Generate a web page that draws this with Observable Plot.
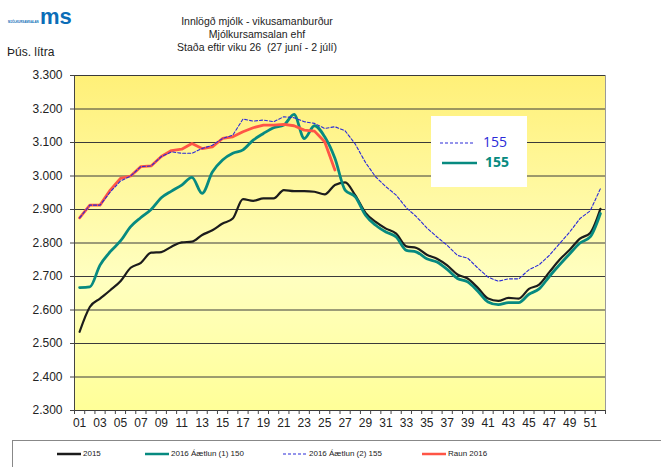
<!DOCTYPE html>
<html>
<head>
<meta charset="utf-8">
<script src="https://cdn.jsdelivr.net/npm/d3@7"></script>
<script src="https://cdn.jsdelivr.net/npm/@observablehq/plot@0.6"></script>
<style>
  html, body { margin: 0; padding: 0; background: #fff; }
  #chart { width: 661px; height: 467px; overflow: hidden; }
</style>
</head>
<body>
<div id="chart"></div>
<script>
// ---- data ----
const weeks = d3.range(1, 53);
const yTicks = [2300, 2400, 2500, 2600, 2700, 2800, 2900, 3000, 3100, 3200, 3300];
const weekLabels = d3.range(1, 53, 2);

const s2015 = [2535, 2609, 2634, 2659, 2686, 2726, 2741, 2771, 2773, 2789, 2802, 2804, 2824, 2838, 2858, 2873,
  2931, 2926, 2933, 2933, 2958, 2955, 2955, 2953, 2945, 2973, 2981, 2942, 2890, 2863, 2843, 2828, 2790, 2785,
  2765, 2753, 2733, 2706, 2694, 2666, 2634, 2627, 2636, 2634, 2663, 2676, 2713, 2750, 2780, 2813, 2830, 2902];
const plan1 = [2667, 2669, 2734, 2774, 2806, 2849, 2876, 2900, 2935, 2955, 2973, 2996, 2948, 3012, 3048, 3068,
  3078, 3107, 3127, 3144, 3152, 3184, 3112, 3150, 3117, 3053, 2958, 2938, 2883, 2853, 2833, 2818, 2778, 2773,
  2753, 2743, 2721, 2694, 2684, 2656, 2624, 2616, 2622, 2622, 2647, 2663, 2700, 2735, 2768, 2800, 2818, 2888];
const plan2 = [2875, 2913, 2913, 2952, 2985, 3000, 3028, 3030, 3058, 3072, 3068, 3068, 3082, 3092, 3112, 3122,
  3170, 3164, 3167, 3162, 3177, 3174, 3162, 3157, 3142, 3147, 3135, 3095, 3040, 2997, 2968, 2943, 2905, 2878,
  2845, 2818, 2793, 2763, 2755, 2725, 2698, 2686, 2693, 2693, 2720, 2735, 2763, 2798, 2833, 2873, 2896, 2962];
const raun2016 = [2875, 2913, 2913, 2958, 2993, 3000, 3028, 3030, 3058, 3076, 3080, 3097, 3082, 3087, 3112, 3117,
  3132, 3144, 3152, 3152, 3154, 3150, 3137, 3134, 3102, 3018];

const seriesNames = ["2015", "2016 Áætlun (1) 150", "2016 Áætlun (2) 155", "Raun 2016"];
const seriesColors = ["#1c1c1c", "#078a80", "#2a2ad8", "#ff5546"];
const titleLines = ["Innlögð mjólk - vikusamanburður", "Mjólkursamsalan ehf", "Staða eftir viku 26  (27 juní - 2 júlí)"];
const yLabel = "Þús. lítra";
const insetLabels = ["155", "155"];

const toRows = arr => arr.map((v, i) => ({week: weeks[i], value: v}));
const fmt = d => d3.format(",")(d).replace(",", ".");
const boundaries = d3.range(0.5, 53, 1);

const chart = Plot.plot({
  width: 661,
  height: 467,
  marginLeft: 74,
  marginRight: 56,
  marginTop: 75,
  marginBottom: 57,
  style: {fontFamily: "'Liberation Sans', Arial, sans-serif", fontSize: "12px", background: "white", color: "#222", overflow: "visible"},
  x: {type: "linear", domain: [0.5, 52.5]},
  y: {domain: [2300, 3300]},
  marks: [
    Plot.frame({fill: "url(#bgGrad)", stroke: null}),
    Plot.ruleY(yTicks, {stroke: "#3a3a3a", strokeWidth: 1}),
    Plot.ruleX([52.5], {stroke: "#9a9a9a", strokeWidth: 1}),
    Plot.axisY({ticks: yTicks, tickSize: 4, tickPadding: 8, tickFormat: fmt, label: null, fontSize: 12, stroke: "#444"}),
    Plot.ruleX([0.5], {stroke: "#444", strokeWidth: 1}),
    Plot.axisX({ticks: boundaries, tickSize: 4, tickFormat: () => "", label: null, stroke: "#444"}),
    Plot.axisX({ticks: weekLabels, tickSize: 0, tickPadding: 8, tickFormat: d => String(d).padStart(2, "0"), label: null, fontSize: 12}),
    Plot.lineY(toRows(s2015), {x: "week", y: "value", stroke: seriesColors[0], strokeWidth: 2.2, curve: "monotone-x"}),
    Plot.lineY(toRows(plan1), {x: "week", y: "value", stroke: seriesColors[1], strokeWidth: 2.8, curve: "monotone-x"}),
    Plot.lineY(toRows(raun2016), {x: "week", y: "value", stroke: seriesColors[3], strokeWidth: 2.8}),
    Plot.lineY(toRows(plan2), {x: "week", y: "value", stroke: seriesColors[2], strokeWidth: 1.1, strokeDasharray: "3,2"})
  ]
});

const svg = d3.select(chart);
const defs = svg.insert("defs", ":first-child");
const grad = defs.append("linearGradient").attr("id", "bgGrad").attr("x1", 0).attr("y1", 0).attr("x2", 0).attr("y2", 1);
grad.append("stop").attr("offset", "0%").attr("stop-color", "#fff078");
grad.append("stop").attr("offset", "60%").attr("stop-color", "#ffffc0");
grad.append("stop").attr("offset", "100%").attr("stop-color", "#ffff98");

const font = "'Liberation Sans', Arial, sans-serif";

// logo
const logo = svg.append("g").attr("text-anchor", "start");
logo.append("text").attr("x", 40).attr("y", 24).attr("text-anchor", "start")
  .attr("font-family", font).attr("font-weight", "bold").attr("font-size", 22).attr("fill", "#0b6db7").text("ms");
logo.append("text").attr("x", 8).attr("y", 23).attr("text-anchor", "start").attr("font-family", font).attr("font-weight", "bold")
  .attr("font-size", 2.9).attr("fill", "#0b6db7").text("MJÓLKURSAMSALAN");

// titles
titleLines.forEach((t, i) => {
  svg.append("text").attr("x", 257).attr("y", 22 + i * 13).attr("text-anchor", "middle").attr("dominant-baseline", "middle")
    .attr("font-family", font).attr("font-size", 10.5).attr("fill", "#222").text(t);
});
svg.append("text").attr("x", 7).attr("y", 53).attr("text-anchor", "start").attr("dominant-baseline", "middle")
  .attr("font-family", font).attr("font-size", 12).attr("fill", "#222").text(yLabel);

// inset legend
const ins = svg.append("g").attr("text-anchor", "start");
ins.append("rect").attr("x", 431).attr("y", 116).attr("width", 96).attr("height", 71).attr("fill", "white");
ins.append("line").attr("x1", 440).attr("x2", 475).attr("y1", 143).attr("y2", 143)
  .attr("stroke", seriesColors[2]).attr("stroke-width", 1.1).attr("stroke-dasharray", "3,2");
ins.append("text").attr("x", 483).attr("y", 143).attr("text-anchor", "start").attr("dominant-baseline", "middle")
  .attr("font-family", "'Open Sans', Lato, sans-serif").attr("font-size", 14).attr("fill", "#2a2ad8").text(insetLabels[0]);
ins.append("line").attr("x1", 442).attr("x2", 477).attr("y1", 163).attr("y2", 163)
  .attr("stroke", seriesColors[1]).attr("stroke-width", 2.5);
ins.append("text").attr("x", 485).attr("y", 163).attr("text-anchor", "start").attr("dominant-baseline", "middle")
  .attr("font-family", "'Open Sans', Lato, sans-serif").attr("font-weight", "bold").attr("font-size", 14).attr("fill", "#078a80").text(insetLabels[1]);

// bottom legend
const lg = svg.append("g").attr("text-anchor", "start");
lg.append("rect").attr("x", 12.5).attr("y", 440.5).attr("width", 660).attr("height", 40).attr("fill", "white").attr("stroke", "#888");
const lx = [57, 145, 283, 422];
seriesNames.forEach((n, i) => {
  const l = lg.append("line").attr("x1", lx[i]).attr("x2", lx[i] + 24).attr("y1", 454).attr("y2", 454)
    .attr("stroke", seriesColors[i]).attr("stroke-width", i === 2 ? 1.1 : 2.5);
  if (i === 2) l.attr("stroke-dasharray", "3,2");
  lg.append("text").attr("x", lx[i] + 26).attr("y", 454).attr("text-anchor", "start").attr("dominant-baseline", "middle")
    .attr("font-family", font).attr("font-size", 8).attr("fill", "#222").text(n);
});

document.getElementById("chart").appendChild(chart);
</script>
</body>
</html>
